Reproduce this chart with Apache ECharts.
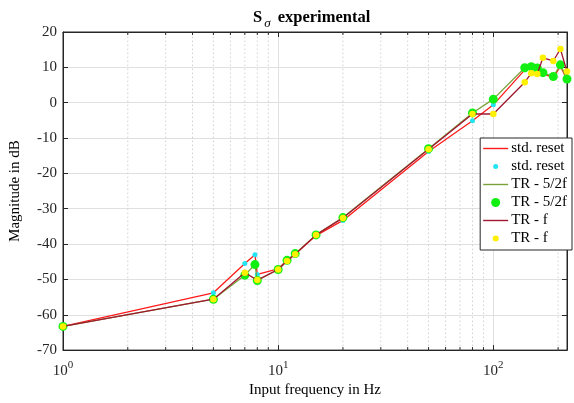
<!DOCTYPE html>
<html>
<head>
<meta charset="utf-8">
<script src="https://cdn.jsdelivr.net/npm/echarts@6/dist/echarts.min.js"></script>
<style>
  html, body { margin: 0; padding: 0; background: #fff; }
  #chart { width: 574px; height: 403px; }
</style>
</head>
<body>
<div id="chart"></div>
<script>
// 频率点（Hz）
const freq = [1, 5, 7, 7.8, 8, 10, 11, 12, 15, 20, 50, 80, 100, 140, 150, 160, 170, 190, 205, 220];
// 各曲线的幅值（dB），null 表示无测点
const stdReset = [-63.3, -53.8, -45.5, -43.0, -48.6, -47.0, -44.6, -42.8, -37.6, -33.3, -13.8, -5.1, -0.6, 9.3, 9.8, 9.4, 8.2, 7.1, 10.3, 6.5];
const tr52f = [-63.3, -55.6, -48.8, -45.8, -50.3, -47.2, -44.6, -42.7, -37.4, -32.5, -13.0, -2.9, 1.0, 9.9, 10.2, 9.8, 8.5, 7.4, 10.7, 6.7];
const trF = [-63.3, -55.6, -48.1, null, -50.2, -47.2, -44.8, -42.9, -37.4, -32.6, -13.2, -3.2, -3.2, 5.8, 8.3, 8.1, 12.7, 11.8, 15.2, 8.8];
// 对数轴次刻度
const minorTicks = [2, 3, 4, 5, 6, 7, 8, 9, 20, 30, 40, 50, 60, 70, 80, 90, 200];

const yMin = -70, yMax = 20;
const serif = 'Liberation Serif, Times New Roman, serif';
const axisColor = '#262626';

const pairs = vals => freq.map((f, i) => [f, vals[i]]).filter(p => p[1] !== null);

// 图例图标：用 M0,0M25,14 撑开包围盒，图标保持原尺寸
const dotIcon = r => 'path://M0,0M25,14M' + (12.5 - r) + ',7a' + r + ',' + r + ' 0 1,0 ' + (2 * r) + ',0a' + r + ',' + r + ' 0 1,0 ' + (-2 * r) + ',0Z';
const lineIcon = 'path://M0,0M25,14M0,6.3H25V7.7H0Z';

const chart = echarts.init(document.getElementById('chart'));

const option = {
  animation: false,
  backgroundColor: '#fff',
  title: {
    text: 'S{sub|σ} experimental',
    left: 248,
    top: 1,
    textStyle: {
      fontFamily: serif,
      fontSize: 16.5,
      fontWeight: 'bold',
      color: '#000',
      rich: {
        sub: { fontFamily: serif, fontSize: 13, fontStyle: 'italic', fontWeight: 'normal', padding: [11, 3, 0, 2] }
      }
    }
  },
  grid: { left: 61, right: 7, top: 32, bottom: 52, show: true, borderColor: axisColor, borderWidth: 1 },
  legend: {
    orient: 'vertical',
    right: 2,
    top: 138,
    padding: [3, 5, 4, 3],
    itemGap: 3,
    itemWidth: 25,
    itemHeight: 14,
    backgroundColor: '#fff',
    borderColor: axisColor,
    borderWidth: 1,
    borderRadius: 0,
    textStyle: { fontFamily: serif, fontSize: 15, color: '#000', padding: [0, 0, 0, -2] },
    formatter: n => n.split('#')[0],
    data: [
      { name: 'std. reset#l', icon: lineIcon },
      { name: 'std. reset#m', icon: dotIcon(2.5) },
      { name: 'TR - 5/2f#l', icon: lineIcon },
      { name: 'TR - 5/2f#m', icon: dotIcon(4.5) },
      { name: 'TR - f#l', icon: lineIcon },
      { name: 'TR - f#m', icon: dotIcon(3) }
    ]
  },
  xAxis: [
    {
      type: 'log',
      logBase: 10,
      min: 1,
      max: 220,
      name: 'Input frequency in Hz',
      nameLocation: 'middle',
      nameGap: 18,
      nameTextStyle: { fontFamily: serif, fontSize: 15, color: '#000' },
      axisLine: { show: true, onZero: false, lineStyle: { color: axisColor } },
      axisTick: { show: true, inside: true, length: 5, lineStyle: { color: axisColor } },
      axisLabel: {
        fontFamily: serif,
        fontSize: 15,
        color: axisColor,
        margin: 10,
        formatter: v => {
          const e = Math.log10(v);
          if (Math.abs(e - Math.round(e)) > 1e-6) return '';
          return '10{sup|' + Math.round(e) + '}';
        },
        rich: { sup: { fontFamily: serif, fontSize: 11, color: axisColor, padding: [0, 0, 10, 0] } }
      },
      splitLine: { show: true, lineStyle: { color: '#e0e0e0', width: 1 } }
    },
    {
      type: 'log',
      logBase: 10,
      min: 1,
      max: 220,
      position: 'top',
      axisLine: { show: true, onZero: false, lineStyle: { color: axisColor } },
      axisTick: { show: true, inside: true, length: 5, lineStyle: { color: axisColor } },
      axisLabel: { show: false },
      splitLine: { show: false }
    }
  ],
  yAxis: [
    {
      type: 'value',
      min: yMin,
      max: yMax,
      interval: 10,
      name: 'Magnitude in dB',
      nameLocation: 'middle',
      nameGap: 40,
      nameTextStyle: { fontFamily: serif, fontSize: 15, color: '#000' },
      axisLine: { show: true, onZero: false, lineStyle: { color: axisColor } },
      axisTick: { show: true, inside: true, length: 5, lineStyle: { color: axisColor } },
      axisLabel: { fontFamily: serif, fontSize: 15, color: axisColor, margin: 6 },
      splitLine: { show: true, lineStyle: { color: '#e0e0e0', width: 1 } }
    },
    {
      type: 'value',
      min: yMin,
      max: yMax,
      interval: 10,
      position: 'right',
      axisLine: { show: true, onZero: false, lineStyle: { color: axisColor } },
      axisTick: { show: true, inside: true, length: 5, lineStyle: { color: axisColor } },
      axisLabel: { show: false },
      splitLine: { show: false }
    }
  ],
  series: [
    {
      // 次网格线（点线）和上下次刻度
      type: 'custom',
      silent: true,
      z: 1,
      data: minorTicks.map(v => [v, 0]),
      renderItem: (params, api) => {
        const x = api.value(0);
        const top = api.coord([x, yMax]);
        const bot = api.coord([x, yMin]);
        return {
          type: 'group',
          children: [
            { type: 'line', shape: { x1: bot[0], y1: bot[1], x2: top[0], y2: top[1] },
              style: { stroke: '#cfcfcf', lineWidth: 1, lineDash: [1.5, 2.5] } },
            { type: 'line', shape: { x1: bot[0], y1: bot[1], x2: bot[0], y2: bot[1] - 3 },
              style: { stroke: axisColor, lineWidth: 1 } },
            { type: 'line', shape: { x1: top[0], y1: top[1], x2: top[0], y2: top[1] + 3 },
              style: { stroke: axisColor, lineWidth: 1 } }
          ]
        };
      }
    },
    {
      name: 'std. reset#l', type: 'line', symbol: 'none', z: 2,
      lineStyle: { color: '#ff1a1a', width: 1.3 }, itemStyle: { color: '#ff1a1a' },
      data: pairs(stdReset)
    },
    {
      name: 'std. reset#m', type: 'scatter', symbolSize: 5, z: 3,
      itemStyle: { color: '#22e4f2', opacity: 1 },
      data: pairs(stdReset)
    },
    {
      name: 'TR - 5/2f#l', type: 'line', symbol: 'none', z: 4,
      lineStyle: { color: '#7aa23a', width: 1.3 }, itemStyle: { color: '#7aa23a' },
      data: pairs(tr52f)
    },
    {
      name: 'TR - 5/2f#m', type: 'scatter', symbolSize: 9, z: 5,
      itemStyle: { color: '#12f012', opacity: 1 },
      data: pairs(tr52f)
    },
    {
      name: 'TR - f#l', type: 'line', symbol: 'none', z: 6,
      lineStyle: { color: '#a0172f', width: 1.3 }, itemStyle: { color: '#a0172f' },
      data: pairs(trF)
    },
    {
      name: 'TR - f#m', type: 'scatter', symbolSize: 6.5, z: 7,
      itemStyle: { color: '#ffef00', opacity: 1 },
      data: pairs(trF)
    }
  ]
};

chart.setOption(option);
</script>
</body>
</html>
